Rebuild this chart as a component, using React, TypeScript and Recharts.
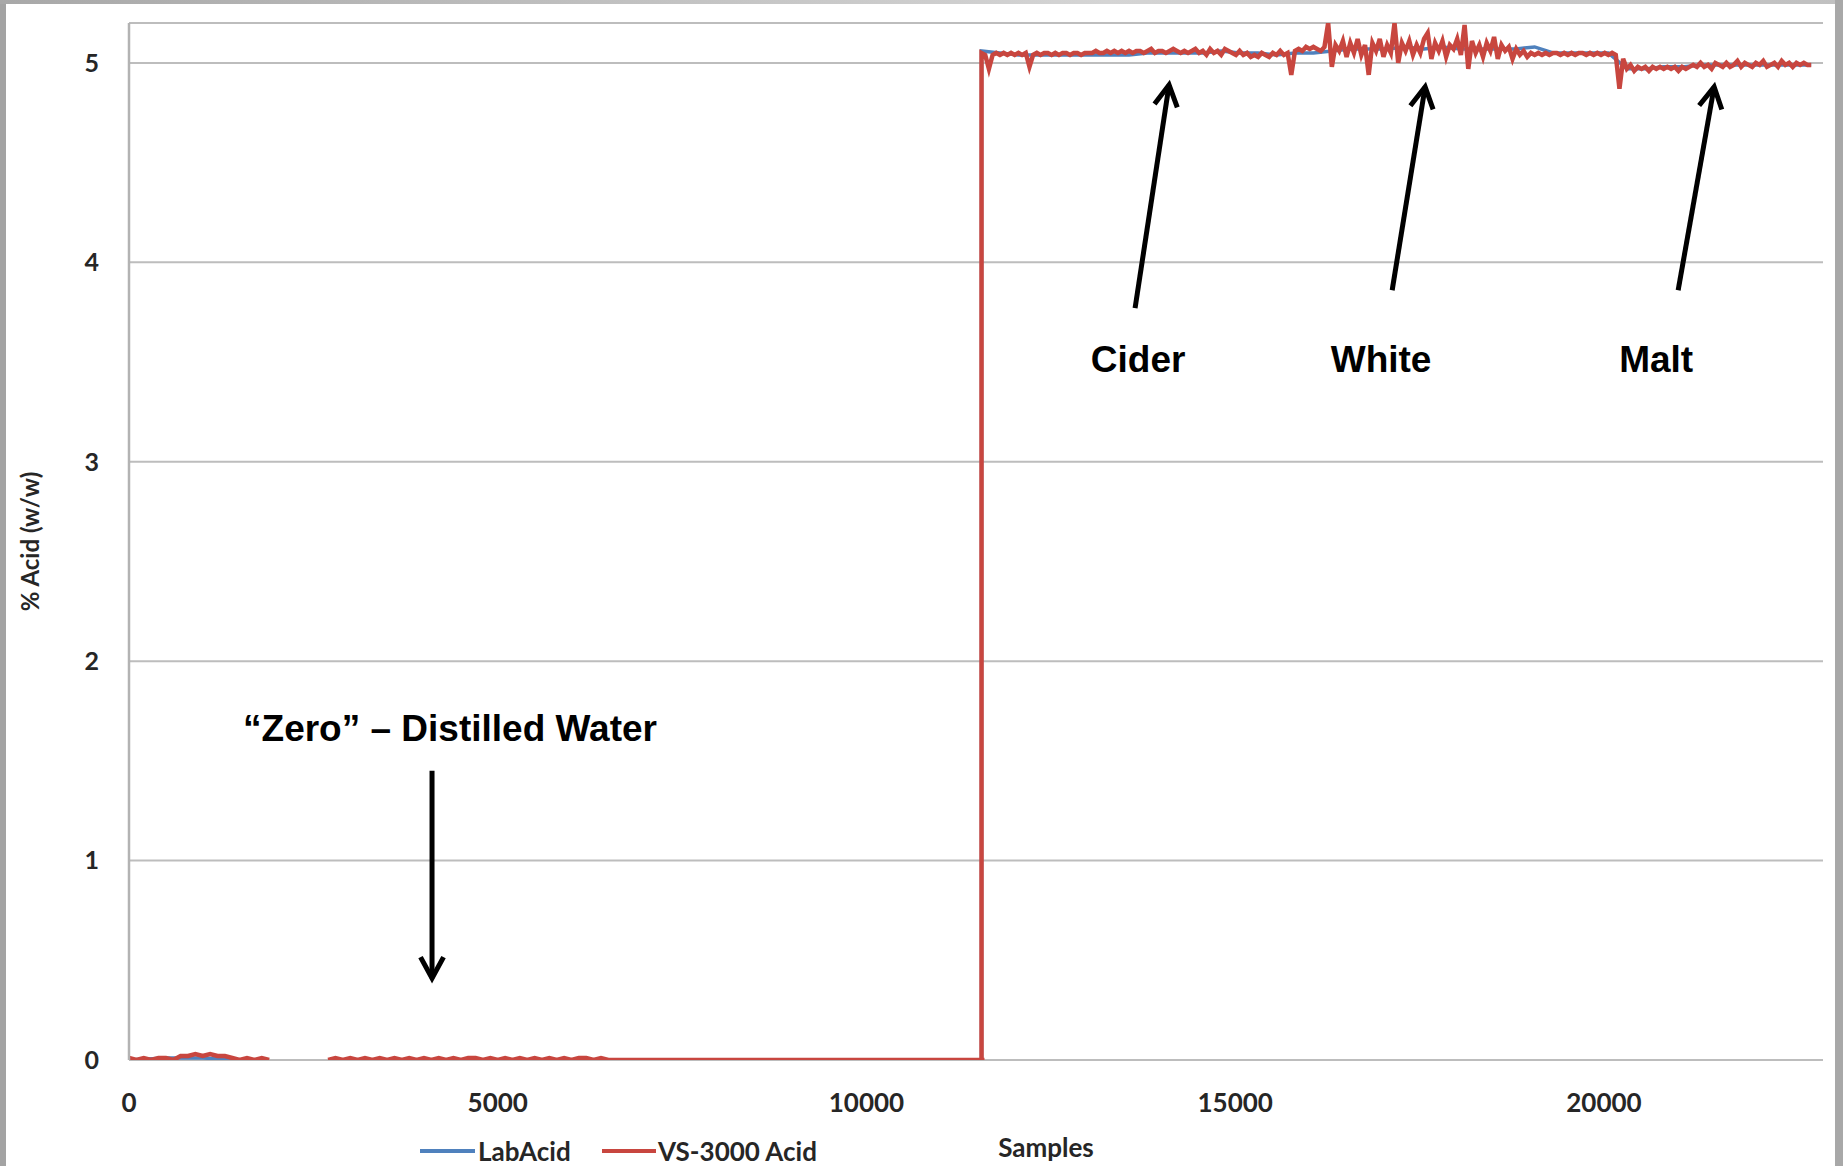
import React from 'react'
import {
  LineChart,
  Line,
  XAxis,
  YAxis,
  CartesianGrid,
  ReferenceLine,
  ReferenceDot,
} from 'recharts'

// sample where the probe goes from distilled water into the vinegars
const STEP_AT = 11560
const ZERO_STEP = 100
const ACID_STEP = 50
const LAB_ZERO_STEP = 500
const LAB_ACID_STEP = 250

const X_TICKS = [0, 5000, 10000, 15000, 20000]
const Y_TICKS = [0, 1, 2, 3, 4, 5]

// VS-3000 Acid, distilled water part (every 100 samples, null = no reading)
const vsZero: (number | null)[] = [
  0.01, 0, 0.01, 0, 0.01, 0.01, 0, 0.02, 0.02, 0.03,
  0.02, 0.03, 0.02, 0.02, 0.01, 0, 0.01, 0, 0.01, 0,
  null, null, null, null, null, null, null, 0, 0.01, 0,
  0.01, 0, 0.01, 0, 0.01, 0, 0.01, 0, 0.01, 0,
  0.01, 0, 0.01, 0, 0.01, 0, 0.01, 0.01, 0, 0.01,
  0, 0.01, 0, 0.01, 0, 0.01, 0, 0.01, 0, 0.01,
  0, 0.01, 0.01, 0, 0.01, 0, 0, 0, 0, 0,
  0, 0, 0, 0, 0, 0, 0, 0, 0, 0,
  0, 0, 0, 0, 0, 0, 0, 0, 0, 0,
  0, 0, 0, 0, 0, 0, 0, 0, 0, 0,
  0, 0, 0, 0, 0, 0, 0, 0, 0, 0,
  0, 0, 0, 0, 0, 0, 0,
]

// VS-3000 Acid, cider / white / malt part (every 50 samples from STEP_AT)
const vsAcid = [
  5.05, 5.04, 4.97, 5.04, 5.05, 5.04, 5.05, 5.04, 5.05, 5.04,
  5.05, 5.04, 5.05, 4.98, 5.04, 5.05, 5.04, 5.05, 5.05, 5.04,
  5.05, 5.04, 5.05, 5.05, 5.04, 5.05, 5.05, 5.04, 5.05, 5.05,
  5.05, 5.06, 5.05, 5.05, 5.06, 5.05, 5.06, 5.05, 5.06, 5.05,
  5.06, 5.05, 5.06, 5.06, 5.05, 5.06, 5.07, 5.05, 5.06, 5.06,
  5.05, 5.06, 5.07, 5.06, 5.05, 5.06, 5.05, 5.06, 5.07, 5.05,
  5.06, 5.04, 5.07, 5.05, 5.06, 5.04, 5.07, 5.06, 5.05, 5.04,
  5.06, 5.04, 5.05, 5.03, 5.04, 5.03, 5.05, 5.04, 5.03, 5.05,
  5.04, 5.06, 5.04, 5.05, 4.94, 5.06, 5.07, 5.06, 5.08, 5.07,
  5.08, 5.07, 5.06, 5.08, 5.2, 4.98, 5.09, 5.06, 5.11, 5.03,
  5.1, 5.05, 5.12, 5.04, 5.09, 4.94, 5.1, 5.06, 5.12, 5.03,
  5.09, 5.05, 5.2, 5.0, 5.1, 5.06, 5.11, 5.04, 5.09, 5.05,
  5.12, 5.15, 5.02, 5.1, 5.06, 5.11, 5.03, 5.09, 5.07, 5.12,
  5.04, 5.19, 4.97, 5.11, 5.05, 5.09, 5.03, 5.1, 5.06, 5.13,
  5.02, 5.09, 5.06, 5.08, 5.02, 5.07, 5.04, 5.06, 5.03, 5.05,
  5.04, 5.05, 5.04, 5.05, 5.04, 5.05, 5.05, 5.04, 5.05, 5.04,
  5.05, 5.04, 5.05, 5.05, 5.04, 5.05, 5.04, 5.05, 5.04, 5.05,
  5.04, 5.05, 5.04, 4.87, 5.02, 4.97, 4.99, 4.96, 4.98, 4.97,
  4.98, 4.96, 4.98, 4.97, 4.98, 4.97, 4.98, 4.97, 4.98, 4.96,
  4.98, 4.97, 4.98, 4.99, 4.98, 5.0, 4.98, 4.99, 4.97, 5.0,
  4.99, 4.98, 5.0, 4.98, 4.99, 5.01, 4.98, 5.0, 4.99, 4.98,
  5.0, 4.99, 5.01, 4.98, 4.99, 5.0, 4.98, 5.01, 4.99, 5.0,
  4.98, 5.0, 4.99, 5.0, 4.99, 4.99,
]

// LabAcid (reference titration), coarser
const labZero: (number | null)[] = [
  0, 0.01, 0.01, 0, null, null, 0, 0, 0, 0, 0, 0,
  0, 0, 0, 0, 0, 0, 0, 0, 0, 0, 0, 0,
]
const labAcid = [
  5.06, 5.05, 5.04, 5.04, 5.04, 5.04, 5.04, 5.04, 5.04, 5.05,
  5.05, 5.05, 5.05, 5.06, 5.05, 5.05, 5.04, 5.05, 5.05, 5.06,
  5.07, 5.07, 5.07, 5.08, 5.07, 5.08, 5.07, 5.07, 5.07, 5.07,
  5.08, 5.05, 5.05, 5.05, 5.05, 4.97, 4.97, 4.98, 4.98, 4.99,
  4.99, 4.99, 4.99, 4.99, 4.99, 4.99,
]

// annotation text and arrows, in data units
const notes = [
  { text: 'Cider', x: 13683, y: 3.45 },
  { text: 'White', x: 16978, y: 3.45 },
  { text: 'Malt', x: 20708, y: 3.45 },
  { text: '\u201cZero\u201d \u2013 Distilled Water', x: 4353, y: 1.6 },
]
const arrows = [
  { from: [13642, 3.77], to: [14103, 4.89] },
  { from: [17128, 3.86], to: [17575, 4.88] },
  { from: [21006, 3.86], to: [21494, 4.88] },
  { from: [4109, 1.45], to: [4109, 0.41] },
]

const RED = '#c8463f'
const BLUE = '#4f81bd'
const TICK = '#262626'

const vsData = [
  ...vsZero.map((v, i) => ({ x: i * ZERO_STEP, y: v })),
  { x: STEP_AT, y: 0 },
  ...vsAcid.map((v, i) => ({ x: STEP_AT + i * ACID_STEP, y: v })),
]
const labData = [
  ...labZero.map((v, i) => ({ x: i * LAB_ZERO_STEP, y: v })),
  { x: STEP_AT, y: 0 },
  ...labAcid.map((v, i) => ({ x: STEP_AT + i * LAB_ACID_STEP, y: v })),
]

function Arrow(props: any) {
  const { x1, y1, x2, y2 } = props
  const ang = Math.atan2(y2 - y1, x2 - x1)
  const len = 24
  const spread = 0.5
  const ax = x2 - len * Math.cos(ang - spread)
  const ay = y2 - len * Math.sin(ang - spread)
  const bx = x2 - len * Math.cos(ang + spread)
  const by = y2 - len * Math.sin(ang + spread)
  return (
    <g>
      <line x1={x1} y1={y1} x2={x2} y2={y2} stroke="#000" strokeWidth={5} />
      <polyline
        points={`${ax},${ay} ${x2},${y2} ${bx},${by}`}
        fill="none"
        stroke="#000"
        strokeWidth={5}
        strokeLinejoin="miter"
      />
    </g>
  )
}

function NoteText(text: string) {
  return (props: any) => (
    <text
      x={props.cx}
      y={props.cy}
      textAnchor="middle"
      fontFamily="'Liberation Sans', Arial, sans-serif"
      fontWeight="bold"
      fontSize={37}
      fill="#000"
    >
      {text}
    </text>
  )
}

function YTitle(props: any) {
  const vb = props.viewBox
  const x = vb.x + 29
  const y = vb.y + vb.height / 2
  return (
    <text
      x={x}
      y={y}
      transform={`rotate(-90 ${x} ${y})`}
      textAnchor="middle"
      dominantBaseline="central"
      fontFamily="Lato, sans-serif"
      fontWeight="bold"
      fontSize={24}
      fill={TICK}
    >
      % Acid (w/w)
    </text>
  )
}

const legendText: React.CSSProperties = {
  position: 'absolute',
  top: 1134,
  fontFamily: 'Lato, sans-serif',
  fontWeight: 'bold',
  fontSize: 26,
  lineHeight: '34px',
  color: TICK,
  whiteSpace: 'nowrap',
}

export default function App() {
  return (
    <div
      style={{
        position: 'absolute',
        left: 0,
        top: 0,
        width: 1843,
        height: 1166,
        background: '#fff',
        overflow: 'hidden',
      }}
    >
      <LineChart width={1843} height={1166} margin={{ top: 23, right: 20, bottom: 46, left: 0 }}>
        <CartesianGrid vertical={false} stroke="#bdbdbd" strokeWidth={2} />
        <XAxis
          type="number"
          dataKey="x"
          domain={[0, 22970]}
          ticks={X_TICKS}
          allowDataOverflow
          height={60}
          axisLine={false}
          tickLine={false}
          tickMargin={28}
          tick={{ fill: TICK, fontSize: 26, fontWeight: 'bold', fontFamily: 'Lato, sans-serif' }}
          label={{
            value: 'Samples',
            position: 'bottom',
            offset: 19,
            dx: 70,
            fill: TICK,
            fontSize: 26,
            fontWeight: 'bold',
            fontFamily: 'Lato, sans-serif',
          }}
        />
        <YAxis
          type="number"
          domain={[0, 5.2]}
          ticks={Y_TICKS}
          allowDataOverflow
          width={129}
          axisLine={{ stroke: '#b3b3b3', strokeWidth: 2.5 }}
          tickLine={false}
          tickMargin={24}
          tick={{ fill: TICK, fontSize: 25, fontWeight: 'bold', fontFamily: 'Lato, sans-serif' }}
          label={<YTitle />}
        />
        <Line
          data={labData}
          dataKey="y"
          name="LabAcid"
          type="linear"
          stroke={BLUE}
          strokeWidth={3.5}
          dot={false}
          isAnimationActive={false}
        />
        <Line
          data={vsData}
          dataKey="y"
          name="VS-3000 Acid"
          type="linear"
          stroke={RED}
          strokeWidth={4.5}
          dot={false}
          isAnimationActive={false}
        />
        {arrows.map((a, i) => (
          <ReferenceLine
            key={'a' + i}
            segment={[
              { x: a.from[0], y: a.from[1] },
              { x: a.to[0], y: a.to[1] },
            ]}
            shape={Arrow}
          />
        ))}
        {notes.map((n) => (
          <ReferenceDot key={n.text} x={n.x} y={n.y} r={1} shape={NoteText(n.text)} />
        ))}
      </LineChart>

      {/* legend */}
      <div style={{ position: 'absolute', left: 420, top: 1149, width: 55, height: 4, background: BLUE }} />
      <div style={{ ...legendText, left: 478 }}>LabAcid</div>
      <div style={{ position: 'absolute', left: 602, top: 1149, width: 54, height: 4, background: RED }} />
      <div style={{ ...legendText, left: 658 }}>VS-3000 Acid</div>

      {/* slide frame edges */}
      <div style={{ position: 'absolute', left: 0, top: 0, width: 6, height: 1166, background: '#a3a3a3' }} />
      <div
        style={{
          position: 'absolute',
          left: 0,
          top: 0,
          width: 1843,
          height: 4,
          background: 'linear-gradient(to right, #a8a8a8, #d4d4d4 60%, #c0c0c0)',
        }}
      />
      <div style={{ position: 'absolute', right: 0, top: 0, width: 8, height: 1166, background: '#a8a8a8' }} />
    </div>
  )
}
